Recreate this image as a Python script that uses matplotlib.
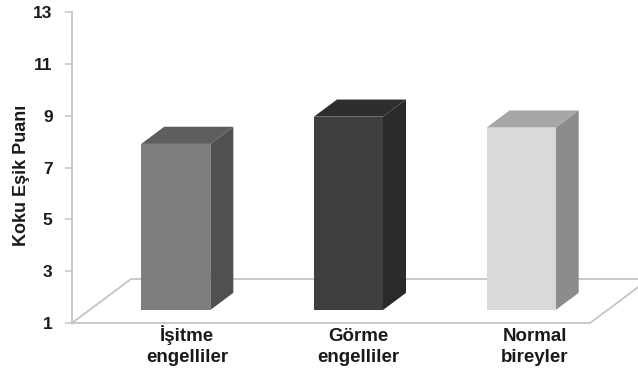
import matplotlib
matplotlib.use("Agg")
import matplotlib.pyplot as plt
from matplotlib.patches import Polygon

plt.rcParams['font.family'] = ['Liberation Sans', 'DejaVu Sans']

# Chart data
categories = ["İşitme\nengelliler", "Görme\nengelliler", "Normal\nbireyler"]
scores = [7.41, 8.46, 8.04]
y_ticks = [1, 3, 5, 7, 9, 11, 13]
y_label = "Koku Eşik Puanı"

front_colors = ["#7e7e7e", "#3f3f3f", "#d9d9d9"]
side_colors = ["#505050", "#2a2a2a", "#8c8c8c"]
top_colors = ["#5e5e5e", "#2e2e2e", "#a6a6a6"]
grid_color = "#c4c4c4"

W, H = 638, 372
fig = plt.figure(figsize=(W / 100, H / 100), dpi=100)
left, right, top, bottom = 72, 638, 12, 323
ax = fig.add_axes([left / W, 1 - bottom / H, (right - left) / W, (bottom - top) / H])

slot_px = 172.7
ax.set_xlim(0, (right - left) / slot_px)
ax.set_ylim(1, 13)

# Oblique projection of the floor depth onto the plane of the axes
depth_dx = 59 / slot_px
depth_dy = 44 / 25.92


def project(x, value, depth):
    return (x + depth * depth_dx, value + depth * depth_dy)


# Floor outline, drawn behind the bars
n = len(categories)
floor = [project(0, 1, 0), project(0, 1, 1), project(n, 1, 1), project(n, 1, 0)]
ax.plot(*zip(*floor), color=grid_color, lw=1.3, zorder=1, clip_on=True)

# Three visible faces of each box
bar_width = 0.4
near, far = 0.295, 0.685
for i, value in enumerate(scores):
    x0 = i + 0.5 - bar_width / 2
    x1 = i + 0.5 + bar_width / 2
    front = [project(x0, 1, near), project(x1, 1, near),
             project(x1, value, near), project(x0, value, near)]
    side = [project(x1, 1, near), project(x1, 1, far),
            project(x1, value, far), project(x1, value, near)]
    roof = [project(x0, value, near), project(x1, value, near),
            project(x1, value, far), project(x0, value, far)]
    ax.add_patch(Polygon(side, closed=True, fc=side_colors[i], ec="none", zorder=3))
    ax.add_patch(Polygon(roof, closed=True, fc=top_colors[i], ec="none", zorder=3))
    ax.add_patch(Polygon(front, closed=True, fc=front_colors[i], ec="none", zorder=4))

# Axes furniture
for name in ("top", "right"):
    ax.spines[name].set_visible(False)
ax.spines["left"].set_color(grid_color)
ax.spines["left"].set_linewidth(1.3)
ax.spines["bottom"].set_bounds(0, n)
ax.spines["bottom"].set_color(grid_color)
ax.spines["bottom"].set_linewidth(1.3)

ax.set_yticks(y_ticks)
ax.set_yticklabels([str(t) for t in y_ticks], fontsize=12.5, fontweight="bold", color="#1a1a1a")
ax.tick_params(axis="y", length=5, width=1.1, color=grid_color, pad=9)

# Category labels share a last-line baseline under the floor, so the dotted capital
# in the first label does not push its block downward
ax.set_xticks([])
label_shift = [0.166, 0.156, 0.181]
for i, label in enumerate(categories):
    ax.text(i + 0.5 + label_shift[i], -39 / (bottom - top), label,
            transform=ax.get_xaxis_transform(), ha="center", va="baseline",
            fontsize=13.5, fontweight="bold", color="#1a1a1a", linespacing=1.28)

fig.text(22 / W, 1 - 175.5 / H, y_label, rotation=90, ha="center", va="center",
         fontsize=13, fontweight="bold", color="#1a1a1a")

fig.savefig("out.png", dpi=100, facecolor="white")
